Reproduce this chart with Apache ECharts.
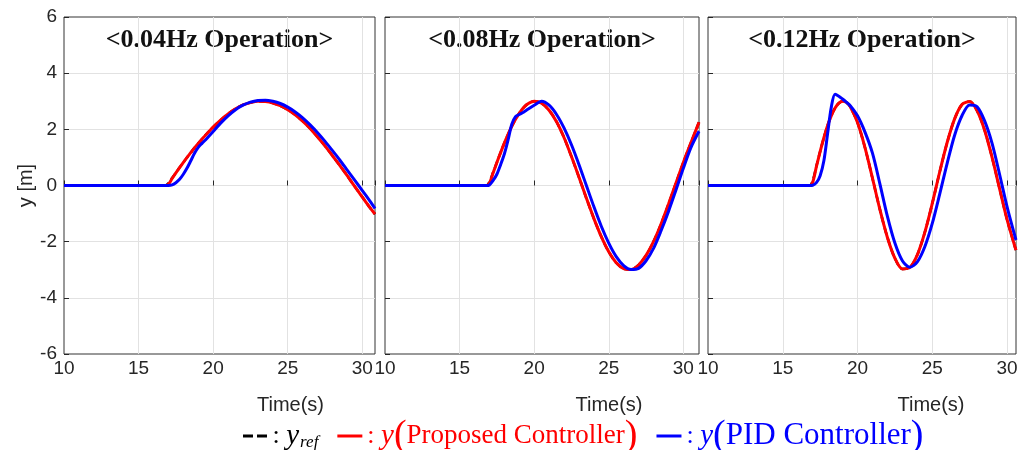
<!DOCTYPE html>
<html><head><meta charset="utf-8">
<script src="https://cdn.jsdelivr.net/npm/echarts@6/dist/echarts.min.js"></script>
<style>html,body{margin:0;padding:0;background:#fff}#c{width:1032px;height:450px}</style>
</head><body><div id="c"></div>
<script>
// ---- data ----
const panelTitles = ['<0.04Hz Operation>', '<0.08Hz Operation>', '<0.12Hz Operation>'];
const xMin = 10;
const xMax = [30.85, 31.05, 30.6];
const yTicks = [-6, -4, -2, 0, 2, 4, 6];
const xTicks = [10, 15, 20, 25, 30];

const time004 = [10,16.5,16.8,17,17.25,17.5,17.75,18,18.25,18.5,18.75,19,19.25,19.5,20,20.5,21,21.5,22,22.5,23,23.5,24,24.5,25,25.5,26,26.5,27,27.5,28,28.5,29,29.5,30,30.5,30.85];
const time008 = [10,16.5,16.8,17,17.25,17.5,17.75,18,18.25,18.5,18.75,19,19.25,19.5,20,20.5,21,21.5,22,22.5,23,23.5,24,24.5,25,25.5,26,26.5,27,27.5,28,28.5,29,29.5,30,30.5,31.05];
const time012 = [10,16.5,16.8,17,17.25,17.5,17.75,18,18.25,18.5,18.75,19,19.25,19.5,20,20.5,21,21.5,22,22.5,23,23.5,24,24.5,25,25.5,26,26.5,27,27.5,28,28.5,29,29.5,30,30.5,30.6];

const ref004  = [0,0,0,0.08,0.27,0.45,0.64,0.82,1.00,1.17,1.34,1.50,1.65,1.80,2.08,2.33,2.55,2.73,2.87,2.95,3.00,2.99,2.94,2.84,2.70,2.52,2.29,2.03,1.73,1.41,1.06,0.71,0.34,-0.04,-0.41,-0.78,-1.02];
const prop004 = [0,0,0,0.04,0.25,0.45,0.64,0.82,1.00,1.17,1.34,1.50,1.65,1.80,2.08,2.33,2.55,2.73,2.87,2.95,3.00,2.99,2.94,2.84,2.70,2.52,2.29,2.03,1.73,1.41,1.06,0.71,0.34,-0.04,-0.41,-0.78,-1.02];
const pid004  = [0,0,0,0.00,0.02,0.10,0.22,0.40,0.62,0.88,1.15,1.36,1.50,1.63,1.92,2.22,2.48,2.70,2.86,2.97,3.03,3.04,3.00,2.92,2.79,2.62,2.41,2.16,1.88,1.57,1.24,0.90,0.54,0.18,-0.18,-0.55,-0.82];

const ref008  = [0,0,0,0.13,0.47,0.82,1.17,1.51,1.82,2.11,2.36,2.57,2.75,2.88,3.00,2.93,2.68,2.27,1.71,1.03,0.30,-0.45,-1.17,-1.82,-2.36,-2.75,-2.96,-2.99,-2.83,-2.49,-2.00,-1.38,-0.67,0.08,0.82,1.51,2.25];
const prop008 = [0,0,0,0.08,0.45,0.82,1.17,1.51,1.82,2.11,2.36,2.57,2.75,2.88,3.00,2.93,2.68,2.27,1.71,1.03,0.30,-0.45,-1.17,-1.82,-2.36,-2.75,-2.96,-2.99,-2.83,-2.49,-2.00,-1.38,-0.67,0.08,0.82,1.51,2.25];
const pid008  = [0,0,0,0.02,0.18,0.40,0.74,1.12,1.62,2.18,2.45,2.53,2.60,2.69,2.86,3.00,2.86,2.53,2.05,1.45,0.75,0.00,-0.75,-1.45,-2.05,-2.53,-2.85,-2.99,-2.95,-2.68,-2.24,-1.62,-0.93,-0.17,0.61,1.34,1.93];

const ref012  = [0,0,0,0.16,0.69,1.21,1.70,2.14,2.49,2.76,2.93,3.00,2.96,2.82,2.24,1.35,0.26,-0.86,-1.85,-2.59,-2.97,-2.92,-2.47,-1.67,-0.64,0.49,1.54,2.38,2.89,2.99,2.66,1.97,1.00,-0.11,-1.21,-2.13,-2.30];
const prop012 = [0,0,0,0.11,0.67,1.21,1.70,2.14,2.49,2.76,2.93,3.00,2.96,2.82,2.24,1.35,0.26,-0.86,-1.85,-2.59,-2.97,-2.92,-2.47,-1.67,-0.64,0.49,1.54,2.38,2.89,2.99,2.66,1.97,1.00,-0.11,-1.21,-2.13,-2.30];
const pid012  = [0,0,0,0.01,0.10,0.35,0.88,1.85,2.80,3.25,3.18,3.08,2.97,2.85,2.48,1.90,1.15,0.05,-1.10,-2.05,-2.68,-2.91,-2.72,-2.18,-1.35,-0.30,0.80,1.80,2.50,2.87,2.80,2.30,1.50,0.40,-0.75,-1.75,-1.94];

const seriesNames = ['y_ref', 'y (Proposed Controller)', 'y (PID Controller)'];

// ---- build ----
const times = [time004, time008, time012];
const refs = [ref004, ref008, ref012];
const props = [prop004, prop008, prop012];
const pids = [pid004, pid008, pid012];

const grids = [
  {left: 64, top: 17, width: 311, height: 337},
  {left: 385, top: 17, width: 314, height: 337},
  {left: 708, top: 17, width: 308, height: 337}
];
const nameShift = [142, 134, 138];
const axisColor = '#262626';
const gridColor = '#e2e2e2';

const pair = (t, v) => t.map((x, i) => [x, v[i]]);

function legendRich(color, tSize) {
  return {
    c: {color: color, fontSize: 26, fontFamily: 'Liberation Serif'},
    y: {color: color, fontSize: 29, fontStyle: 'italic', fontFamily: 'Liberation Serif'},
    s: {color: color, fontSize: 17, fontStyle: 'italic', fontFamily: 'Liberation Serif', padding: [14, 0, 0, 1]},
    p: {color: color, fontSize: 38, fontFamily: 'Liberation Serif'},
    t: {color: color, fontSize: tSize, fontFamily: 'Liberation Serif'}
  };
}

const option = {
  animation: false,
  backgroundColor: '#ffffff',
  grid: grids.map(g => Object.assign({show: true, borderColor: '#333333', borderWidth: 1, backgroundColor: 'transparent'}, g)),
  xAxis: grids.map((g, i) => ({
    type: 'value', gridIndex: i, min: xMin, max: xMax[i], interval: 5,
    axisLine: {show: false},
    axisTick: {show: true, inside: true, length: 5, lineStyle: {color: axisColor}},
    splitLine: {show: true, showMinLine: false, showMaxLine: false, lineStyle: {color: gridColor, width: 1}},
    axisLabel: {
      margin: 5, color: axisColor, fontSize: 19, fontFamily: 'Liberation Sans',
      formatter: v => (xTicks.indexOf(v) >= 0 ? String(v) : '')
    },
    name: 'Time(s)', nameLocation: 'middle', nameGap: 41,
    nameTextStyle: {color: axisColor, fontSize: 20, fontFamily: 'Liberation Sans', padding: [0, 0, 0, nameShift[i]]}
  })),
  yAxis: grids.map((g, i) => ({
    type: 'value', gridIndex: i, min: -6, max: 6, interval: 2,
    axisLine: {show: false},
    axisTick: {show: true, inside: true, length: 5, lineStyle: {color: axisColor}},
    splitLine: {show: true, showMinLine: false, showMaxLine: false, lineStyle: {color: gridColor, width: 1}},
    axisLabel: {show: i === 0, margin: 7, color: axisColor, fontSize: 19, fontFamily: 'Liberation Sans',
      formatter: v => (yTicks.indexOf(v) >= 0 ? String(v) : '')},
    name: i === 0 ? 'y [m]' : '', nameLocation: 'middle', nameGap: 27,
    nameTextStyle: {color: axisColor, fontSize: 20, fontFamily: 'Liberation Sans'}
  })),
  legend: {
    left: 238, top: 412, itemWidth: 25, itemHeight: 3, itemGap: 19,
    selectedMode: false,
    data: [
      {name: seriesNames[0], icon: 'path://M0,0H10V3H0Z M14,0H24V3H14Z',
        textStyle: {color: '#000', fontFamily: 'Liberation Serif', fontSize: 26, rich: legendRich('#000', 27)}},
      {name: seriesNames[1], icon: 'rect',
        textStyle: {color: '#ff0000', fontFamily: 'Liberation Serif', fontSize: 26, rich: legendRich('#ff0000', 27)}},
      {name: seriesNames[2], icon: 'rect',
        textStyle: {color: '#0000ff', fontFamily: 'Liberation Serif', fontSize: 26, rich: legendRich('#0000ff', 31)}}
    ],
    formatter: name => {
      if (name === seriesNames[0]) return '{c|:} {y|y}{s|ref}';
      if (name === seriesNames[1]) return '{c|:} {y|y}{p|(}{t|Proposed Controller}{p|)}';
      return '{c|:} {y|y}{p|(}{t|PID Controller}{p|)}';
    }
  },
  graphic: grids.map((g, i) => ({
    type: 'text', x: g.left + g.width / 2, y: 40, silent: true,
    style: {text: panelTitles[i], fill: '#111', align: 'center', verticalAlign: 'middle',
      font: 'bold 26px "Liberation Serif"'}
  })),
  series: []
};

for (let i = 0; i < 3; i++) {
  option.series.push({
    name: seriesNames[0], type: 'line', xAxisIndex: i, yAxisIndex: i, showSymbol: false, symbol: 'none',
    smooth: 0.3, data: pair(times[i], refs[i]), lineStyle: {color: '#000', width: 2.5, type: [7, 4]}, itemStyle: {color: '#000'}
  });
  option.series.push({
    name: seriesNames[1], type: 'line', xAxisIndex: i, yAxisIndex: i, showSymbol: false, symbol: 'none',
    smooth: 0.3, data: pair(times[i], props[i]), lineStyle: {color: '#ff0000', width: 3}, itemStyle: {color: '#ff0000'}
  });
  option.series.push({
    name: seriesNames[2], type: 'line', xAxisIndex: i, yAxisIndex: i, showSymbol: false, symbol: 'none',
    smooth: 0.3, data: pair(times[i], pids[i]), lineStyle: {color: '#0000ff', width: 3}, itemStyle: {color: '#0000ff'}
  });
}

const chart = echarts.init(document.getElementById('c'), null, {renderer: 'canvas'});
chart.setOption(option);
</script>
</body></html>
